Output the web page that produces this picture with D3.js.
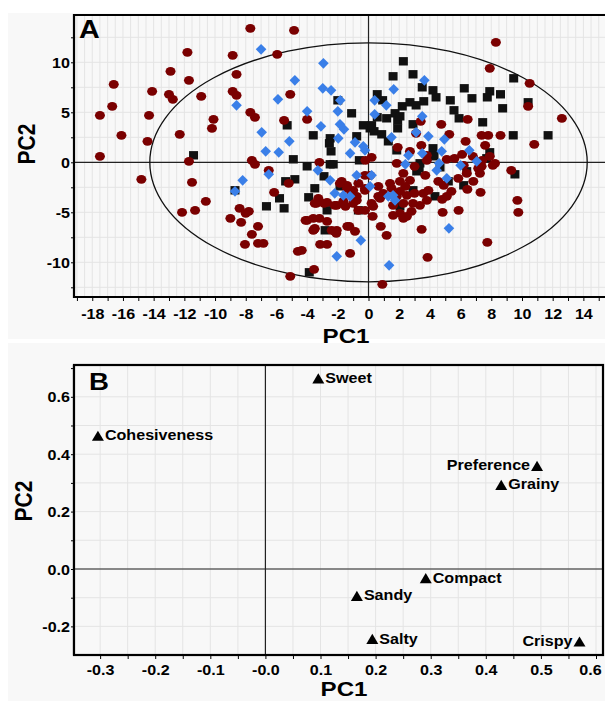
<!DOCTYPE html>
<html>
<head>
<meta charset="utf-8">
<script src="https://cdn.jsdelivr.net/npm/d3@7"></script>
<style>
  body { margin: 0; background: #fff; }
  text { font-family: "Liberation Sans", Arial, sans-serif; font-weight: bold; fill: #000; }
</style>
</head>
<body>
<div id="chart"></div>
<script>
// score plot (panel A): three groups of samples
var redPts = [
  [-7.7,13.4],[-4.85,13.2],[-8.85,10.7],[-5.95,10.8],[-11.8,11.0],[-12.9,9.1],[-11.7,8.2],[-8.6,8.8],
  [-16.6,7.8],[-14.1,7.1],[-13.0,6.8],[-12.75,6.3],[-10.9,6.6],[-8.85,7.1],[-8.6,6.7],[-5.1,6.8],
  [-16.7,5.6],[-17.5,4.7],[-14.3,4.7],[-7.7,5.0],[-7.4,4.5],[-5.5,4.2],[-10.1,4.3],[-10.2,3.4],
  [-16.1,2.7],[-12.3,2.8],[-14.4,2.1],[-17.5,0.6],[-11.7,0.1],[-7.6,0.2],[-7.4,-0.2],[-6.5,-0.8],
  [-14.8,-1.7],[-11.5,-2.0],[-10.6,-3.9],[-12.15,-5.0],[-11.3,-4.8],[-9.0,-5.6],[-8.4,-4.6],[-7.8,-4.9],
  [-8.0,-5.1],[-8.3,-6.0],[-7.2,-6.4],[-7.6,-7.2],[-8.05,-8.2],[-7.2,-8.1],[-6.85,-8.1],[-6.15,-3.0],
  [-5.2,-2.1],[-4.6,-8.9],[-5.1,-11.4],[-4.35,-8.8],
  [-4.0,4.3],[-3.2,0.0],[-3.27,-3.6],[-2.7,-4.0],[-3.4,-4.1],[-2.07,-4.3],[-1.5,-4.4],[-1.75,-1.9],
  [-1.4,-2.3],[-1.0,-2.8],[-0.77,-3.4],[-1.0,-4.1],[-0.66,-4.8],[-4.0,-5.8],[-3.6,-5.6],[-3.2,-5.6],
  [-3.5,-6.6],[-2.4,-6.8],[-2.07,-6.8],[-1.38,-6.4],[-0.88,-6.9],
  [8.3,12.0],[7.9,9.4],[10.5,7.9],[10.4,5.6],[12.6,4.4],[6.46,4.3],[4.74,3.8],[5.26,2.8],
  [7.37,2.7],[7.8,2.7],[8.6,2.7],[6.33,2.1],[7.6,1.7],[10.8,1.8],[3.44,1.7],[1.9,1.5],
  [0.2,0.5],[-0.2,0.2],[1.84,-0.1],[3.1,2.9],[3.4,4.1],[5.6,0.4],[6.1,0.8],[6.8,0.6],
  [7.4,0.2],[7.9,0.6],[8.24,-0.1],[9.3,-0.8],[3.8,0.2],[2.7,1.1],
  [9.7,-3.8],[9.76,-5.0],[7.74,-8.0],[7.3,-3.0],[6.44,-2.7],[5.87,-4.8],[4.83,-5.0],[3.46,-6.7],
  [3.85,-9.5],[0.9,-12.2],[0.8,-6.4],[1.18,-7.3],[0.27,-5.4],[-1.2,-9.1],[-3.55,-10.7],[-3.15,-8.2],
  [-2.7,-8.2],[-3.53,-6.7],[2.05,-5.1],[2.5,-5.4],[2.8,-4.9],[1.6,-4.3],[3.35,-4.3],[4.8,-3.7],
  [5.1,-3.4],[5.4,-2.9],[4.9,-2.3],[4.55,-1.9],[3.57,-3.1],[3.9,-2.8],[7.26,-1.1],[7.37,-0.4],
  [8.1,-0.3],[6.4,-1.1],[5.85,-1.6],[6.2,-0.3],[2.7,-1.8],[2.4,-2.4],[2.05,-2.9],[1.4,-2.1],
  [0.96,-3.1],[0.64,-3.4],[2.27,-4.1],[3.0,-3.1],[-0.23,-1.3],[-0.66,-2.1],[-0.23,-2.8],[-0.77,-3.8],
  [-0.23,-4.8],[0.2,-4.1],[-1.86,-2.1],[-1.4,-2.6],[-1.1,-3.1],[-1.64,-3.9],[-2.2,-4.3],[-2.9,-4.1],
  [-3.5,-4.1],[-4.1,-5.8],[-3.6,-6.8],[-2.7,-5.9],[-2.2,-6.9],[-1.25,-6.4],
  [3.8,0.7],[5.1,0.3],[7.15,-0.6],[3.0,-0.4],[3.7,-1.3],[2.27,-1.1],[2.05,-1.9],[1.5,-2.6],
  [0.1,-1.3],[-0.23,-2.6],[0.64,-2.4],[0.75,-3.6],[0.3,-4.4],[1.84,-3.4],[2.5,-3.3],[2.9,-4.1],
  [2.27,-5.6],[1.6,-5.3],[3.8,-3.8],[6.83,-1.9],[-2.1,-7.1]
];
var bluePts = [
  [-7.0,11.3],[-4.8,8.2],[-5.9,6.3],[-8.6,5.7],[-6.96,3.0],[-6.7,1.1],[-5.85,1.0],[-5.16,2.1],
  [-8.2,-1.8],[-8.7,-2.9],[-6.5,-1.2],
  [-4.0,5.1],[-2.0,5.1],[-3.1,3.6],[-1.86,3.8],[-1.6,3.3],[-1.97,2.4],[-1.2,0.9],[-0.88,2.0],
  [-3.3,-0.8],[-2.5,-1.8],[-0.77,-1.3],[-2.2,-3.1],[-1.64,-3.3],[-1.2,-3.4],
  [-2.94,9.9],[-2.98,7.4],[-2.44,7.2],[-1.84,6.2],[-0.34,1.6],[0.4,6.2],[1.16,5.7],[1.64,7.3],
  [3.64,8.2],[0.4,4.8],[3.5,4.6],[3.1,3.0],[3.9,2.6],[4.94,2.3],[1.5,2.5],[2.6,0.7],
  [3.5,0.9],[4.77,1.1],[6.57,1.2],[7.05,0.1],[6.0,-0.3],[4.6,-0.1],[2.4,-0.2],
  [5.24,-6.6],[-0.5,-7.8],[-2.07,-9.4],[1.34,-10.3],[4.44,-0.8],[5.1,-1.6],[0.2,-1.3],[0.1,-2.4],
  [1.29,-3.4],[1.73,-3.8],[-0.23,1.2],[1.6,-3.3]
];
var blackPts = [
  [-5.3,3.7],[-11.4,0.7],[-4.9,0.3],
  [-8.7,-2.8],[-6.65,-4.4],[-5.8,-3.6],[-5.5,-4.6],[-5.4,-1.9],[-4.8,-1.7],
  [-3.6,2.7],[-2.5,2.4],[-2.55,1.9],[-2.44,1.1],[-1.1,4.9],[-0.77,2.6],[-4.0,-0.4],[-2.5,-0.2],
  [-2.3,-0.2],[-0.6,0.2],[-2.9,-1.4],[-3.5,-2.6],[-3.9,-3.5],[-2.7,-4.8],[-1.86,-2.4],
  [2.27,10.1],[2.9,8.8],[1.6,8.6],[3.5,7.5],[4.2,7.2],[4.4,6.5],[6.24,7.4],[6.74,6.4],
  [5.33,6.2],[7.9,7.1],[7.74,6.5],[8.6,6.8],[9.46,8.4],[10.4,6.0],[8.74,5.4],[0.57,6.8],
  [0.92,6.2],[2.2,5.6],[2.7,6.0],[3.6,6.1],[3.1,5.7],[1.73,4.9],[1.9,4.2],[1.9,3.4],
  [2.9,3.8],[5.57,5.2],[5.9,4.4],[7.44,4.0],[9.43,2.7],[11.7,2.7],[0.57,4.5],[0.1,3.4],
  [0.36,3.1],[0.86,2.8],[1.29,2.1],[4.2,1.4],[7.9,1.0],[-2.0,6.2],[4.2,0.6],[3.3,-0.6],
  [9.54,-1.2],[-2.83,-6.8],[-3.86,-11.0],[-0.66,-4.8],[3.14,-0.9],[6.2,-2.3],[2.05,-4.4],[4.33,-3.4],
  [7.7,0.4],[1.84,1.2],[3.35,-0.1],[4.27,0.7],[4.66,-0.5],[5.2,-1.9],[6.4,-0.9],[2.9,-2.8],
  [-0.34,3.7],[0.2,3.7],[1.18,4.4],[2.05,4.6]
];
// Hotelling ellipse half axes (score units)
var ellipseRx = 14.25, ellipseRy = 11.95;

// loading plot (panel B)
var attrNames = ["Sweet","Cohesiveness","Preference","Grainy","Compact","Sandy","Salty","Crispy"];
var attrPC1 = [0.096,-0.304,0.493,0.428,0.291,0.166,0.194,0.570];
var attrPC2 = [0.664,0.464,0.359,0.293,-0.032,-0.094,-0.244,-0.253];
var leftLabels = ["Preference","Crispy"];

var xTicksA = d3.range(-19, 16), yTicksA = d3.range(-5, 6).map(function(i){ return i*2.5; });
var xTicksB = d3.range(-7, 13).map(function(i){ return +(i*0.05).toFixed(2); });
var yTicksB = d3.range(-2, 7).map(function(i){ return +(i*0.1).toFixed(1); });

var W = 605, H = 701, SX = 1.15;

var svg = d3.select("#chart").append("svg")
  .attr("width", W).attr("height", H);

svg.append("rect").attr("x", 8).attr("y", 13).attr("width", W).attr("height", 326).attr("fill", "#f8f8f8");
svg.append("rect").attr("x", 8).attr("y", 343).attr("width", W).attr("height", 360).attr("fill", "#f8f8f8");

function label(g, x, y, s, size, anchor) {
  return g.append("text")
    .attr("transform", "translate(" + x + "," + y + ") scale(" + SX + ",1)")
    .attr("text-anchor", anchor || "middle")
    .attr("font-size", size)
    .text(s);
}
function vlabel(g, x, y, s, size) {
  return g.append("text")
    .attr("transform", "translate(" + x + "," + y + ") rotate(-90) scale(1," + SX + ")")
    .attr("text-anchor", "middle")
    .attr("font-size", size)
    .text(s);
}
function fmtB(d) {
  if (Math.abs(d) < 1e-9) return "-0.0";
  return d.toFixed(1);
}

// ---------- panel A ----------
var ax = d3.scaleLinear().domain([-19.19, 15.8]).range([74, 611]);
var ay = d3.scaleLinear().domain([-13.47, 14.73]).range([297, 15]);
var gA = svg.append("g");

gA.selectAll(".gvA").data(d3.range(-38, 32).map(function(i){ return i/2; }))
  .enter().append("line")
  .attr("x1", function(d){ return ax(d); }).attr("x2", function(d){ return ax(d); })
  .attr("y1", ay.range()[1]).attr("y2", ay.range()[0])
  .attr("stroke", "#e4e4e4").attr("stroke-width", 1);
gA.selectAll(".ghA").data(d3.range(-5, 6).map(function(i){ return i*2.5; }))
  .enter().append("line")
  .attr("x1", ax.range()[0]).attr("x2", ax.range()[1])
  .attr("y1", function(d){ return ay(d); }).attr("y2", function(d){ return ay(d); })
  .attr("stroke", "#e4e4e4").attr("stroke-width", 1);

gA.append("line").attr("x1", ax.range()[0]).attr("x2", ax.range()[1])
  .attr("y1", ay(0)).attr("y2", ay(0)).attr("stroke", "#222").attr("stroke-width", 1.2);
gA.append("line").attr("x1", ax(0)).attr("x2", ax(0))
  .attr("y1", ay.range()[1]).attr("y2", ay.range()[0]).attr("stroke", "#222").attr("stroke-width", 1.2);

gA.append("ellipse")
  .attr("cx", ax(0)).attr("cy", ay(0))
  .attr("rx", ax(ellipseRx) - ax(0)).attr("ry", ay(0) - ay(ellipseRy))
  .attr("fill", "none").attr("stroke", "#111").attr("stroke-width", 1.3);

gA.selectAll(".sq").data(blackPts).enter().append("rect")
  .attr("x", function(d){ return ax(d[0]) - 4.5; })
  .attr("y", function(d){ return ay(d[1]) - 4.2; })
  .attr("width", 9).attr("height", 8.4)
  .attr("fill", "#111");
gA.selectAll(".ci").data(redPts).enter().append("ellipse")
  .attr("cx", function(d){ return ax(d[0]); })
  .attr("cy", function(d){ return ay(d[1]); })
  .attr("rx", 5).attr("ry", 4.4)
  .attr("fill", "#7a0000");
gA.selectAll(".di").data(bluePts).enter().append("path")
  .attr("transform", function(d){ return "translate(" + ax(d[0]) + "," + ay(d[1]) + ")"; })
  .attr("d", "M0,-5.4L5.3,0L0,5.4L-5.3,0Z")
  .attr("fill", "#3a7fe8");

var xAxisA = gA.append("g").attr("transform", "translate(0," + ay.range()[0] + ")")
  .call(d3.axisBottom(ax).tickValues(xTicksA).tickSize(4).tickSizeOuter(0)
    .tickFormat(function(d){ return d % 2 === 0 ? d : ""; }));
xAxisA.select(".domain").remove();
xAxisA.selectAll("text").attr("y", 0).attr("dy", null)
  .attr("transform", "translate(0,22) scale(" + SX + ",1)")
  .attr("font-size", 14).attr("font-family", null);

var yAxisA = gA.append("g").attr("transform", "translate(" + ax.range()[0] + ",0)")
  .call(d3.axisLeft(ay).tickValues(yTicksA).tickSize(3).tickSizeOuter(0)
    .tickFormat(function(d){ return d % 5 === 0 ? d : ""; }));
yAxisA.select(".domain").remove();
yAxisA.selectAll("text").attr("x", 0).attr("dy", "0.36em")
  .attr("transform", "translate(-4,0) scale(" + SX + ",1)")
  .attr("font-size", 14).attr("font-family", null);

// frame
gA.append("path")
  .attr("d", "M" + ax.range()[1] + "," + ay.range()[1] + "H" + ax.range()[0] + "V" + ay.range()[0] + "H" + ax.range()[1])
  .attr("fill", "none").attr("stroke", "#000").attr("stroke-width", 2.2);

label(gA, 79, 38, "A", 25, "start");
label(gA, 346, 343, "PC1", 21);
vlabel(gA, 35, 144, "PC2", 21);

// ---------- panel B ----------
var bx = d3.scaleLinear().domain([-0.3474, 0.6127]).range([74, 603]);
var by = d3.scaleLinear().domain([-0.2997, 0.7108]).range([655, 365]);
var gB = svg.append("g");

gB.selectAll(".gvB").data(xTicksB).enter().append("line")
  .attr("x1", function(d){ return bx(d); }).attr("x2", function(d){ return bx(d); })
  .attr("y1", by.range()[1]).attr("y2", by.range()[0])
  .attr("stroke", "#e4e4e4").attr("stroke-width", 1);
gB.selectAll(".ghB").data(yTicksB).enter().append("line")
  .attr("x1", bx.range()[0]).attr("x2", bx.range()[1])
  .attr("y1", function(d){ return by(d); }).attr("y2", function(d){ return by(d); })
  .attr("stroke", "#e4e4e4").attr("stroke-width", 1);

gB.append("line").attr("x1", bx.range()[0]).attr("x2", bx.range()[1])
  .attr("y1", by(0)).attr("y2", by(0)).attr("stroke", "#222").attr("stroke-width", 1.2);
gB.append("line").attr("x1", bx(0)).attr("x2", bx(0))
  .attr("y1", by.range()[1]).attr("y2", by.range()[0]).attr("stroke", "#222").attr("stroke-width", 1.2);

var xAxisB = gB.append("g").attr("transform", "translate(0," + by.range()[0] + ")")
  .call(d3.axisBottom(bx).tickValues(xTicksB.filter(function(d){ return d >= -0.3; }))
    .tickSize(4).tickSizeOuter(0)
    .tickFormat(function(d){ return Math.round(d*100) % 10 === 0 ? fmtB(d) : ""; }));
xAxisB.select(".domain").remove();
// last label sits at the window edge: nudge it in so it stays whole
xAxisB.selectAll("text").attr("y", 0).attr("dy", null)
  .attr("transform", function(d){
    return "translate(" + (d > 0.55 ? -6 : 0) + ",20) scale(" + SX + ",1)";
  })
  .attr("font-size", 14).attr("font-family", null);

var yAxisB = gB.append("g").attr("transform", "translate(" + bx.range()[0] + ",0)")
  .call(d3.axisLeft(by).tickValues(yTicksB.concat([0.7])).tickSize(3).tickSizeOuter(0)
    .tickFormat(function(d){ return Math.round(d*10) % 2 === 0 && d < 0.65 ? d.toFixed(1) : ""; }));
yAxisB.select(".domain").remove();
yAxisB.selectAll("text").attr("x", 0).attr("dy", "0.36em")
  .attr("transform", "translate(-4,0) scale(" + SX + ",1)")
  .attr("font-size", 14).attr("font-family", null);

gB.append("rect")
  .attr("x", bx.range()[0]).attr("y", by.range()[1])
  .attr("width", bx.range()[1] - bx.range()[0]).attr("height", by.range()[0] - by.range()[1])
  .attr("fill", "none").attr("stroke", "#000").attr("stroke-width", 2.2);

var pts = gB.selectAll(".ld").data(attrNames).enter().append("g")
  .attr("transform", function(d, i){ return "translate(" + bx(attrPC1[i]) + "," + by(attrPC2[i]) + ")"; });
pts.append("path").attr("d", "M0,-5.2L6,5L-6,5Z").attr("fill", "#000");
pts.each(function(d){
  var left = leftLabels.indexOf(d) >= 0;
  label(d3.select(this), left ? -7 : 7, 4.5, d, 14, left ? "end" : "start");
});

label(gB, 89, 390, "B", 24, "start");
label(gB, 344, 696, "PC1", 21);
vlabel(gB, 32, 501, "PC2", 21);
</script>
</body>
</html>
